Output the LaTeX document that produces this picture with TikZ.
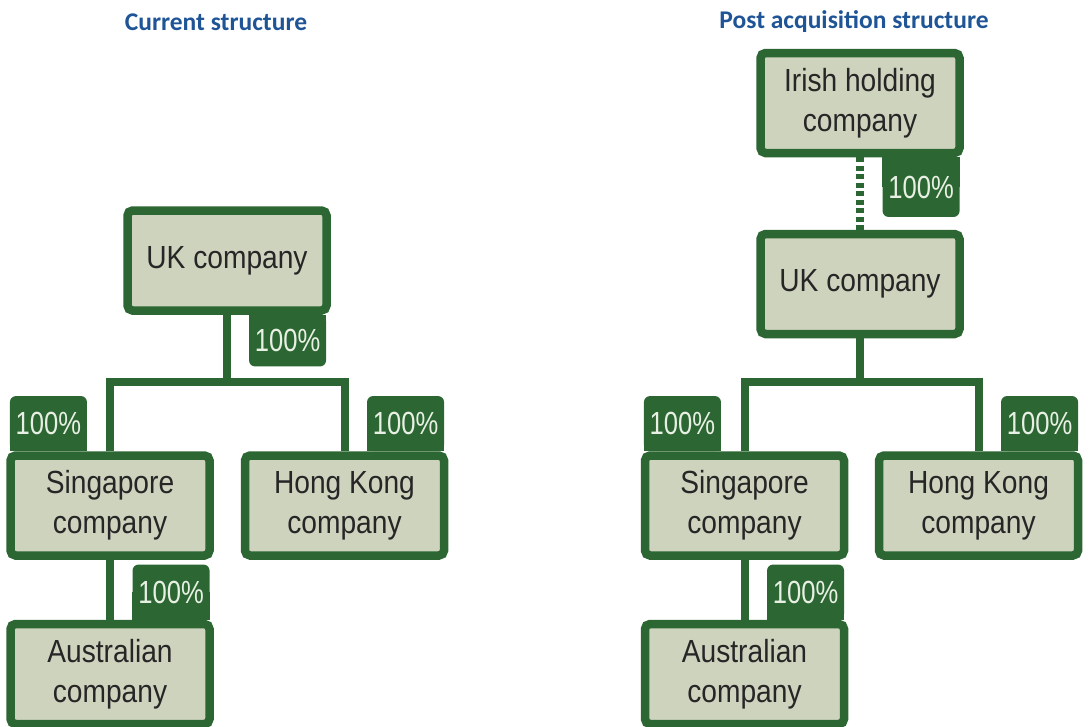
\documentclass[tikz,border=0pt]{standalone}
\usepackage{fontspec}
\setmainfont[FakeStretch=0.88]{Liberation Sans}
\newfontfamily\tagfont[FakeStretch=0.8]{Liberation Sans}
\newfontfamily\titlefont{Carlito}
\usetikzlibrary{backgrounds}
\definecolor{boxgreen}{RGB}{44,102,50}
\definecolor{boxfill}{RGB}{206,211,190}
\definecolor{titleblue}{RGB}{31,85,150}
\definecolor{tagtext}{RGB}{232,240,228}

\begin{document}
\begin{tikzpicture}[x=1pt,y=-1pt]


\tikzset{company/.style={draw=boxgreen, line width=8.5pt, fill=boxfill, rounded corners=5pt, minimum width=199pt, minimum height=100pt, inner sep=0pt, align=center, text=black!85, font=\fontsize{32}{40}\selectfont},}
\tikzset{share/.style={fill=boxgreen, rounded corners=6pt, minimum width=77pt, minimum height=55pt, inner sep=0pt, text=tagtext, font=\tagfont\fontsize{32}{38}\selectfont},}
\tikzset{link/.style={draw=boxgreen, line width=8pt},}
\tikzset{heading/.style={text=titleblue, font=\titlefont\bfseries\fontsize{25.5}{30}\selectfont},}

\useasboundingbox (0,0) rectangle (1091,726);

	\draw
		(216,22) node[heading] (h1) {Current structure}
		(854,22) node[heading] (h2) {Post acquisition structure}
		
		(227,260.5) node[company] (uk1) {UK company}
		(110,505.5) node[company] (sg1) {Singapore\\company}
		(344.5,505.5) node[company] (hk1) {Hong Kong\\company}
		(110,674) node[company] (au1) {Australian\\company}
		
		(860,103) node[company] (ie2) {Irish holding\\company}
		(860,284) node[company] (uk2) {UK company}
		(744.5,505.5) node[company] (sg2) {Singapore\\company}
		(978.5,505.5) node[company] (hk2) {Hong Kong\\company}
		(744.5,674) node[company] (au2) {Australian\\company}
;

\coordinate (j1) at (227,382);
\coordinate (j2) at (860,382);

\draw[link](uk1.south) -- (j1);
\draw[link](sg1.north) |- (j1) -| (hk1.north);
\draw[link](sg1.south) -- (au1.north);

\draw[link, dash pattern=on 5pt off 3.5pt](ie2.south) -- (uk2.north);
\draw[link](uk2.south) -- (j2);
\draw[link](sg2.north) |- (j2) -| (hk2.north);
\draw[link](sg2.south) -- (au2.north);

\node[share, anchor=north east, minimum height=51.5pt] (t1) at ([xshift=-4.5pt]uk1.south east) {100\%};
\node[share, anchor=south west] (t2) at ([xshift=3.5pt]sg1.north west) {100\%};
\node[share, anchor=south east] (t3) at ([xshift=-4pt]hk1.north east) {100\%};
\node[share, anchor=south east] (t4) at ([xshift=-4pt]au1.north east) {100\%};

\node[share, anchor=north east, minimum height=59.5pt] (t5) at ([xshift=-4pt]ie2.south east) {100\%};
\node[share, anchor=south west] (t6) at ([xshift=3pt]sg2.north west) {100\%};
\node[share, anchor=south east] (t7) at ([xshift=-4pt]hk2.north east) {100\%};
\node[share, anchor=south east] (t8) at ([xshift=-4pt]au2.north east) {100\%};

% square off the side that sits on the box
\begin{scope}[on background layer]
\foreach \t in {t1,t5} \fill[boxgreen] (\t.north west) rectangle (\t.east);
\foreach \t in {t2,t3,t4,t6,t7,t8} \fill[boxgreen] (\t.west) rectangle (\t.south east);
\end{scope}


\end{tikzpicture}
\end{document}
